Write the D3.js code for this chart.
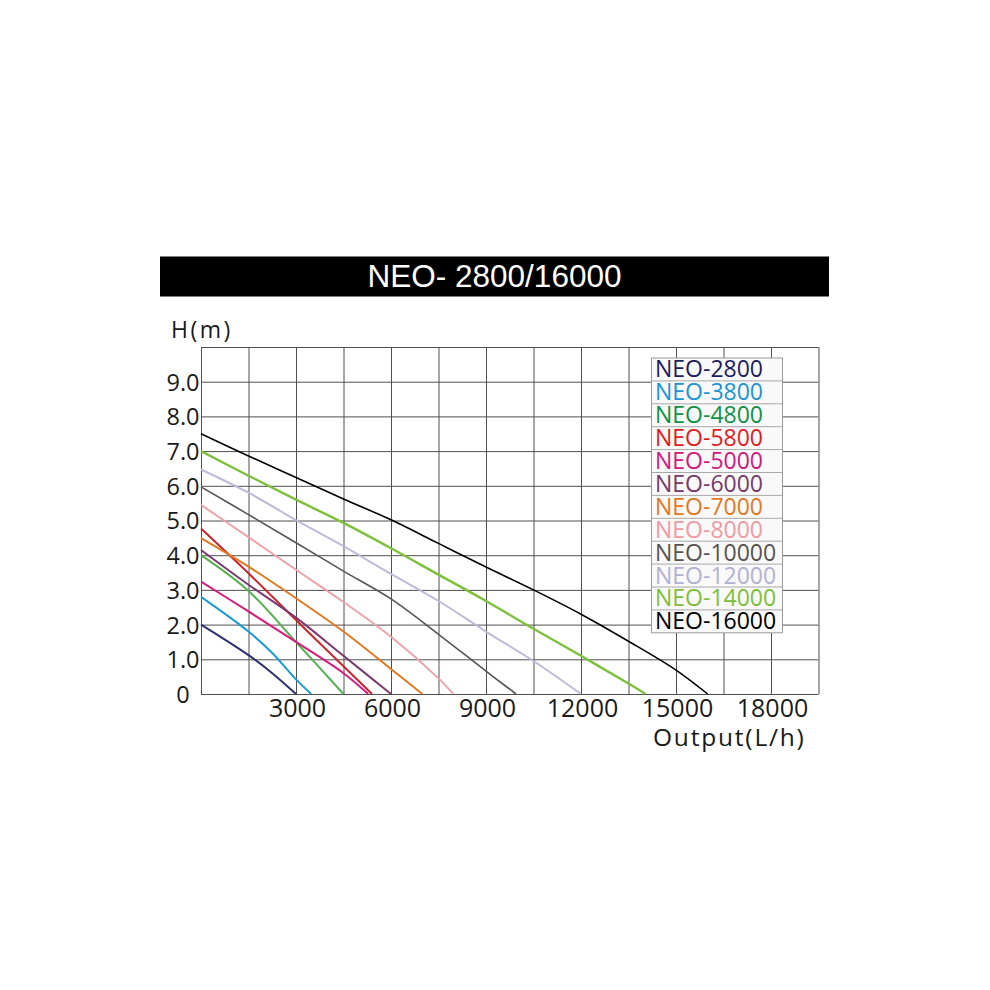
<html>
<head>
<script src="https://d3js.org/d3.v7.min.js"></script>
<style>
  body { margin: 0; background: #fff; }
  text { font-family: "Open Sans", sans-serif; }
</style>
</head>
<body>
<svg id="chart" width="990" height="990"></svg>
<script>
// pump curves, [flow L/h, head m]
const neo2800  = [[0,2.0],[1500,1.12],[2250,0.6],[3000,0]];
const neo3800  = [[0,2.8],[1500,1.8],[2250,1.18],[3000,0.42],[3480,0]];
const neo4800  = [[0,4.0],[1500,2.97],[3000,1.5],[4500,0]];
const neo5800  = [[0,4.77],[1500,3.48],[3000,2.13],[4500,0.8],[5400,0]];
const neo5000  = [[0,3.24],[1500,2.38],[3000,1.5],[4500,0.6],[5280,0]];
const neo6000  = [[0,4.15],[1500,3.15],[3000,2.2],[4500,1.1],[6000,0]];
const neo7000  = [[0,4.49],[1500,3.67],[3000,2.76],[4500,1.8],[6000,0.72],[6990,0]];
const neo8000  = [[0,5.45],[1500,4.52],[3000,3.58],[4500,2.65],[6000,1.65],[7500,0.45],[7970,0]];
const neo10000 = [[0,5.97],[1500,5.17],[3000,4.36],[4500,3.54],[6000,2.74],[7500,1.72],[9000,0.66],[9950,0]];
const neo12000 = [[0,6.47],[1500,5.8],[3000,5.01],[4500,4.26],[6000,3.46],[7500,2.68],[9000,1.8],[10500,0.95],[12000,0]];
const neo14000 = [[0,7.0],[1500,6.29],[3000,5.6],[4500,4.93],[6000,4.2],[7500,3.44],[9000,2.68],[10500,1.88],[12000,1.1],[13500,0.3],[14040,0]];
const neo16000 = [[0,7.5],[1500,6.86],[3000,6.24],[4500,5.62],[6000,5.02],[7500,4.34],[9000,3.66],[10500,3.0],[12000,2.3],[13500,1.52],[15000,0.69],[16000,0]];

const models = ["NEO-2800","NEO-3800","NEO-4800","NEO-5800","NEO-5000","NEO-6000",
                "NEO-7000","NEO-8000","NEO-10000","NEO-12000","NEO-14000","NEO-16000"];
const series = [neo2800, neo3800, neo4800, neo5800, neo5000, neo6000,
                neo7000, neo8000, neo10000, neo12000, neo14000, neo16000];

const xTicks = [3000, 6000, 9000, 12000, 15000, 18000];
const yTicks = [0, 1, 2, 3, 4, 5, 6, 7, 8, 9];
const yTickLabels = ["0","1.0","2.0","3.0","4.0","5.0","6.0","7.0","8.0","9.0"];

const titleText = "NEO- 2800/16000";
const xTitle = "Output(L/h)";
const yTitle = "H(m)";

// styles
const lineColors = ["#2e3170","#1b9bd7","#55b04f","#c8262c","#d81b7c","#7b3a6f",
                    "#e3781f","#eea2aa","#555555","#bcbcd8","#7cc13b","#000000"];
const textColors = ["#211c60","#1a95d4","#0f9146","#e11b22","#d2167f","#77396c",
                    "#e2781e","#f09aa3","#57534f","#b2b1d3","#7dbf38","#000000"];
const lineWidths = [2,2,2,2,2,2,2,2,1.6,2,2.4,1.6];

const svg = d3.select("#chart");
const plotL = 201, plotR = 818.5, plotT = 347, plotB = 694;

const x = d3.scaleLinear().domain([0, 19500]).range([plotL, plotR]);
const y = d3.scaleLinear().domain([0, 10]).range([plotB, plotT]);

// title bar
svg.append("rect")
  .attr("x", 160).attr("y", 256.5).attr("width", 669).attr("height", 40)
  .attr("fill", "#000");
svg.append("text")
  .attr("x", 494.5).attr("y", 287)
  .attr("text-anchor", "middle")
  .style("font-family", "'Liberation Sans', Arial, sans-serif")
  .style("font-size", "31.5px")
  .attr("fill", "#fff")
  .text(titleText);

// grid
const gridX = d3.axisBottom(x)
  .tickValues(d3.range(0, 19501, 1500))
  .tickSize(-(plotB - plotT)).tickFormat("");
svg.append("g")
  .attr("transform", `translate(0,${plotB})`)
  .call(gridX)
  .call(g => g.select(".domain").remove())
  .call(g => g.selectAll("line").attr("stroke", "#505050").attr("stroke-width", 1));

const gridY = d3.axisLeft(y)
  .tickValues(d3.range(0, 11, 1))
  .tickSize(-(plotR - plotL)).tickFormat("");
svg.append("g")
  .attr("transform", `translate(${plotL},0)`)
  .call(gridY)
  .call(g => g.select(".domain").remove())
  .call(g => g.selectAll("line").attr("stroke", "#505050").attr("stroke-width", 1));

// tick labels
const xAxis = d3.axisBottom(x).tickValues(xTicks).tickSize(0).tickPadding(0).tickFormat(d3.format("d"));
svg.append("g")
  .attr("transform", `translate(0,${plotB})`)
  .call(xAxis)
  .call(g => g.select(".domain").remove())
  .call(g => g.selectAll("text")
    .attr("y", 23).attr("dy", 0).attr("dx", 1)
    .style("font-size", "25px").attr("fill", "#1a1a1a"));

const yAxis = d3.axisLeft(y).tickValues(yTicks).tickSize(0).tickPadding(0)
  .tickFormat((d, i) => yTickLabels[i]);
svg.append("g")
  .attr("transform", `translate(183,0)`)
  .call(yAxis)
  .call(g => g.select(".domain").remove())
  .call(g => g.selectAll("text")
    .attr("x", 0).attr("dy", "0.36em")
    .attr("text-anchor", "middle")
    .style("font-size", "23.5px").attr("fill", "#1a1a1a"));

svg.append("text")
  .attr("x", 171).attr("y", 338)
  .style("font-size", "23px").style("letter-spacing", "2.5px")
  .attr("fill", "#1a1a1a")
  .text(yTitle);

svg.append("text")
  .attr("x", 653).attr("y", 746)
  .style("font-size", "24.5px").style("letter-spacing", "1.8px")
  .attr("fill", "#1a1a1a")
  .text(xTitle);

// curves
const line = d3.line()
  .x(d => x(d[0]))
  .y(d => y(d[1]))
  .curve(d3.curveCatmullRom.alpha(0.5));

svg.append("g").selectAll("path")
  .data(series)
  .join("path")
  .attr("d", line)
  .attr("fill", "none")
  .attr("stroke", (d, i) => lineColors[i])
  .attr("stroke-width", (d, i) => lineWidths[i]);

// legend table
const legX = 651.5, legY = 358, rowH = 22.9, legW = 131;
const legend = svg.append("g");
legend.append("rect")
  .attr("x", legX).attr("y", legY)
  .attr("width", legW).attr("height", rowH * models.length)
  .attr("fill", "#f9f9f9").attr("stroke", "#9a9a9a").attr("stroke-width", 1);

const rows = legend.selectAll("g.row").data(models).join("g")
  .attr("class", "row")
  .attr("transform", (d, i) => `translate(${legX},${legY + i * rowH})`);
rows.filter((d, i) => i > 0).append("line")
  .attr("x1", 0).attr("x2", legW).attr("y1", 0).attr("y2", 0)
  .attr("stroke", "#a8a8a8").attr("stroke-width", 1);
rows.append("text")
  .attr("x", 3.5).attr("y", rowH - 3.5)
  .style("font-size", "23px")
  .attr("fill", (d, i) => textColors[i])
  .text(d => d);
</script>
</body>
</html>
